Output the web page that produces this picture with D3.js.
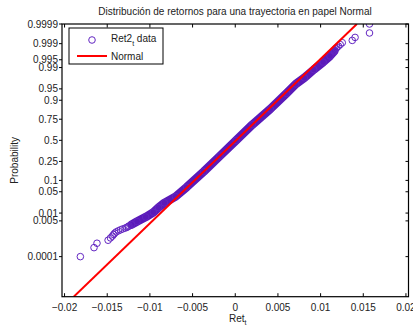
<!DOCTYPE html>
<html lang="en">
<head>
<meta charset="UTF-8">
<title>normplot</title>
<style>
  body { margin:0; background:#fff; }
  svg { display:block; font-family:"Liberation Sans", Arial, sans-serif; }
  .tick-label { font-size:10px; fill:#222; }
</style>
</head>
<body>
<svg id="CHART" width="413" height="328"></svg>
<script src="https://cdnjs.cloudflare.com/ajax/libs/d3/7.8.5/d3.min.js"></script>
<script>
// sorted returns, with their plotting positions
const lowTailP   = [0.0001, 0.0003, 0.0005, 0.0007, 0.0009, 0.0011, 0.0013, 0.0015, 0.0017, 0.0019, 0.0021, 0.0023, 0.0025, 0.0027, 0.0029, 0.0031];
const lowTailRet = [-0.01815, -0.01655, -0.01620, -0.01490, -0.01462, -0.01440, -0.01425, -0.01412, -0.01395, -0.01370, -0.01345, -0.01320, -0.01290, -0.01270, -0.01255, -0.01245];

const bandP   = [0.0035, 0.0047, 0.0071, 0.0107, 0.0158, 0.0228, 0.0359, 0.0668, 0.1587, 0.3085, 0.5, 0.6915, 0.8413, 0.9332, 0.9641, 0.9772, 0.9881, 0.9938, 0.9965, 0.9978];
const bandRet = [-0.01215, -0.01150, -0.01050, -0.00960, -0.00900, -0.00830, -0.00700, -0.00570, -0.00370, -0.00180, 0.0001, 0.0020, 0.0041, 0.0060, 0.0071, 0.0081, 0.0092, 0.0103, 0.0111, 0.0116];

const highTailP   = [0.9979, 0.9981, 0.9983, 0.9985, 0.9987, 0.9989, 0.9991, 0.9993, 0.9995, 0.9997, 0.9999];
const highTailRet = [0.01160, 0.01165, 0.01180, 0.01190, 0.01210, 0.01230, 0.01254, 0.01371, 0.01404, 0.01573, 0.01573];

// reference normal line
const fitMean = 0.0001;
const fitStd = 0.003805;

const xTicks = [-0.02, -0.015, -0.01, -0.005, 0, 0.005, 0.01, 0.015, 0.02];
const yTicks = [0.0001, 0.005, 0.01, 0.05, 0.1, 0.25, 0.5, 0.75, 0.9, 0.95, 0.99, 0.995, 0.999, 0.9999];
const xDomain = [-0.0203, 0.0203];
const zBottom = -5.0;

// inverse normal cdf (Acklam)
function probit(p) {
  const a = [-3.969683028665376e+01, 2.209460984245205e+02, -2.759285104469687e+02, 1.383577518672690e+02, -3.066479806614716e+01, 2.506628277459239e+00];
  const b = [-5.447609879822406e+01, 1.615858368580409e+02, -1.556989798598866e+02, 6.680131188771972e+01, -1.328068155288572e+01];
  const c = [-7.784894002430293e-03, -3.223964580411365e-01, -2.400758277161838e+00, -2.549671010229458e+00, 4.374664141464968e+00, 2.938163982698783e+00];
  const d = [7.784695709041462e-03, 3.224671290700398e-01, 2.445134137142996e+00, 3.754408661907416e+00];
  const pl = 0.02425;
  let q, r;
  if (p < pl) {
    q = Math.sqrt(-2 * Math.log(p));
    return (((((c[0]*q+c[1])*q+c[2])*q+c[3])*q+c[4])*q+c[5]) / ((((d[0]*q+d[1])*q+d[2])*q+d[3])*q+1);
  } else if (p <= 1 - pl) {
    q = p - 0.5; r = q * q;
    return (((((a[0]*r+a[1])*r+a[2])*r+a[3])*r+a[4])*r+a[5])*q / (((((b[0]*r+b[1])*r+b[2])*r+b[3])*r+b[4])*r+1);
  } else {
    q = Math.sqrt(-2 * Math.log(1 - p));
    return -(((((c[0]*q+c[1])*q+c[2])*q+c[3])*q+c[4])*q+c[5]) / ((((d[0]*q+d[1])*q+d[2])*q+d[3])*q+1);
  }
}

const L = 62, R = 408.5, T = 24, B = 296.7;
const zTop = probit(0.9999);

const x = d3.scaleLinear().domain(xDomain).range([L, R]);
const y = d3.scaleLinear().domain([zBottom, zTop]).range([B, T]);

const svg = d3.select("#CHART");
const markColor = "#6326c2";

svg.append("defs").append("clipPath").attr("id", "clip")
  .append("rect").attr("x", L).attr("y", T).attr("width", R - L).attr("height", B - T);

const plot = svg.append("g").attr("clip-path", "url(#clip)");

// dense band of overlapping markers
const band = bandRet.map((v, i) => [v, bandP[i]]);
plot.append("path")
  .datum(band)
  .attr("fill", "none")
  .attr("stroke", "#5a1ab9")
  .attr("stroke-width", 8.5)
  .attr("stroke-linejoin", "round")
  .attr("stroke-linecap", "round")
  .attr("d", d3.line().x(d => x(d[0])).y(d => y(probit(d[1]))));

const pts = []
  .concat(lowTailRet.map((v, i) => [v, lowTailP[i]]))
  .concat(band)
  .concat(highTailRet.map((v, i) => [v, highTailP[i]]));

plot.append("g").selectAll("circle")
  .data(pts)
  .join("circle")
  .attr("cx", d => x(d[0]))
  .attr("cy", d => y(probit(d[1])))
  .attr("r", 3.3)
  .attr("fill", "none")
  .attr("stroke", markColor)
  .attr("stroke-width", 1);

// normal reference line
plot.append("line")
  .attr("x1", x(fitMean + fitStd * zBottom)).attr("y1", y(zBottom))
  .attr("x2", x(fitMean + fitStd * zTop)).attr("y2", y(zTop))
  .attr("stroke", "#ff0000")
  .attr("stroke-width", 2);

// axes box
svg.append("rect")
  .attr("x", L).attr("y", T).attr("width", R - L).attr("height", B - T)
  .attr("fill", "none").attr("stroke", "#000").attr("stroke-width", 1.2);

const tk = svg.append("g").attr("stroke", "#000").attr("stroke-width", 1);
xTicks.forEach(v => {
  tk.append("line").attr("x1", x(v)).attr("x2", x(v)).attr("y1", B).attr("y2", B - 3.5);
  tk.append("line").attr("x1", x(v)).attr("x2", x(v)).attr("y1", T).attr("y2", T + 3.5);
});
yTicks.forEach(p => {
  const yy = y(probit(p));
  tk.append("line").attr("x1", L - 3).attr("x2", L).attr("y1", yy).attr("y2", yy);
  tk.append("line").attr("x1", R - 3).attr("x2", R).attr("y1", yy).attr("y2", yy);
});

const fmt = v => (v < 0 ? "\u2212" : "") + String(Math.abs(v));
svg.append("g").selectAll("text")
  .data(xTicks).join("text")
  .attr("class", "tick-label")
  .attr("x", d => x(d)).attr("y", 311)
  .attr("text-anchor", "middle")
  .text(fmt);

svg.append("g").selectAll("text")
  .data(yTicks).join("text")
  .attr("class", "tick-label")
  .attr("x", 58).attr("y", d => y(probit(d)) + 3.6)
  .attr("text-anchor", "end")
  .text(d => String(d));

// title and axis labels
svg.append("text")
  .attr("x", 235).attr("y", 15)
  .attr("text-anchor", "middle")
  .style("font-size", "10px").attr("fill", "#222")
  .text("Distribución de retornos para una trayectoria en papel Normal");

const xl = svg.append("text")
  .attr("x", 229).attr("y", 322)
  .style("font-size", "10px").attr("fill", "#222");
xl.append("tspan").text("Ret");
xl.append("tspan").attr("dy", 3).style("font-size", "7px").text("t");

svg.append("text")
  .attr("transform", "translate(18," + ((T + B) / 2) + ") rotate(-90)")
  .attr("text-anchor", "middle")
  .style("font-size", "10px").attr("fill", "#222")
  .text("Probability");

// legend
const lg = svg.append("g");
lg.append("rect")
  .attr("x", 69).attr("y", 28).attr("width", 94).attr("height", 36)
  .attr("fill", "#fff").attr("stroke", "#000").attr("stroke-width", 1);
lg.append("circle")
  .attr("cx", 92).attr("cy", 40).attr("r", 3.3)
  .attr("fill", "none").attr("stroke", markColor);
const lt = lg.append("text")
  .attr("x", 111).attr("y", 42)
  .style("font-size", "10px").attr("fill", "#222");
lt.append("tspan").text("Ret2");
lt.append("tspan").attr("dy", 3.5).style("font-size", "7px").text("t");
lt.append("tspan").attr("dy", -3.5).text(" data");
lg.append("line")
  .attr("x1", 77).attr("x2", 107).attr("y1", 56).attr("y2", 56)
  .attr("stroke", "#ff0000").attr("stroke-width", 2);
lg.append("text")
  .attr("x", 111).attr("y", 59.5)
  .style("font-size", "10px").attr("fill", "#222")
  .text("Normal");
</script>
</body>
</html>
